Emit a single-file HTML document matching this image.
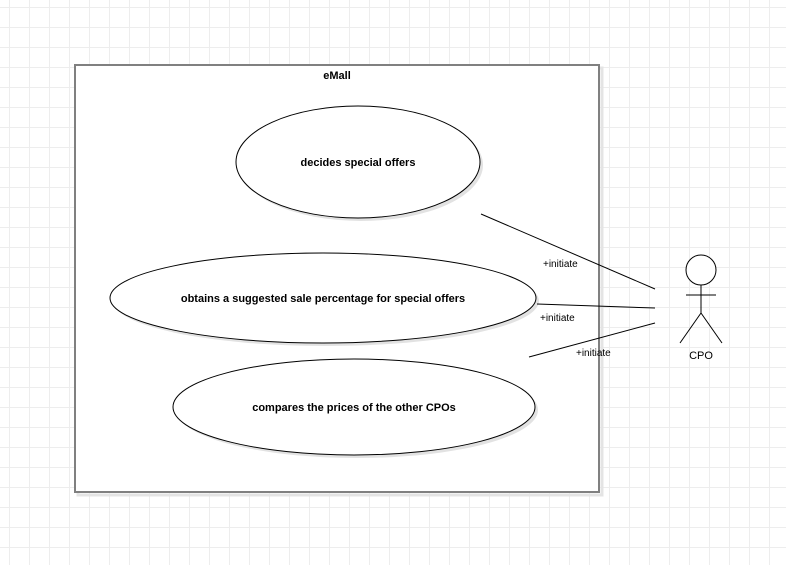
<!DOCTYPE html>
<html><head><style>
body{margin:0;width:786px;height:565px;overflow:hidden;background:#fff;
background-image:linear-gradient(#ededed 1px,transparent 1px),linear-gradient(90deg,#ededed 1px,transparent 1px);
background-size:20px 20px;background-position:0 7px,9px 0;}
svg{position:absolute;left:0;top:0}
text{font-family:"Liberation Sans",sans-serif;}
</style></head><body>
<svg width="786" height="565">
<rect x="78" y="68" width="524" height="427" fill="none" stroke="#e4e4e4" stroke-width="3"/>
<rect x="75" y="65" width="524" height="427" fill="#fff" stroke="#808080" stroke-width="2"/>
<text x="337" y="79" font-size="11" font-weight="bold" text-anchor="middle">eMall</text>
<g fill="#e2e2e2">
<ellipse cx="361" cy="165" rx="122" ry="56"/>
<ellipse cx="326" cy="301" rx="213" ry="45"/>
<ellipse cx="357" cy="410" rx="181" ry="48"/>
</g>
<g fill="#fff" stroke="#000" stroke-width="1">
<ellipse cx="358" cy="162" rx="122" ry="56"/>
<ellipse cx="323" cy="298" rx="213" ry="45"/>
<ellipse cx="354" cy="407" rx="181" ry="48"/>
</g>
<g font-size="11" font-weight="bold" text-anchor="middle">
<text x="358" y="166">decides special offers</text>
<text x="323" y="302">obtains a suggested sale percentage for special offers</text>
<text x="354" y="411">compares the prices of the other CPOs</text>
</g>
<g stroke="#000" stroke-width="1">
<line x1="481" y1="214" x2="655" y2="289"/>
<line x1="537" y1="304" x2="655" y2="308"/>
<line x1="529" y1="357" x2="655" y2="323"/>
</g>
<g font-size="10">
<text x="543" y="267">+initiate</text>
<text x="540" y="321">+initiate</text>
<text x="576" y="356">+initiate</text>
</g>
<g stroke="#000" stroke-width="1" fill="#fff">
<circle cx="701" cy="270" r="15"/>
<line x1="701" y1="285" x2="701" y2="313"/>
<line x1="686" y1="295" x2="716" y2="295"/>
<line x1="701" y1="313" x2="680" y2="343"/>
<line x1="701" y1="313" x2="722" y2="343"/>
</g>
<text x="701" y="359" font-size="11" text-anchor="middle">CPO</text>
</svg>
</body></html>
